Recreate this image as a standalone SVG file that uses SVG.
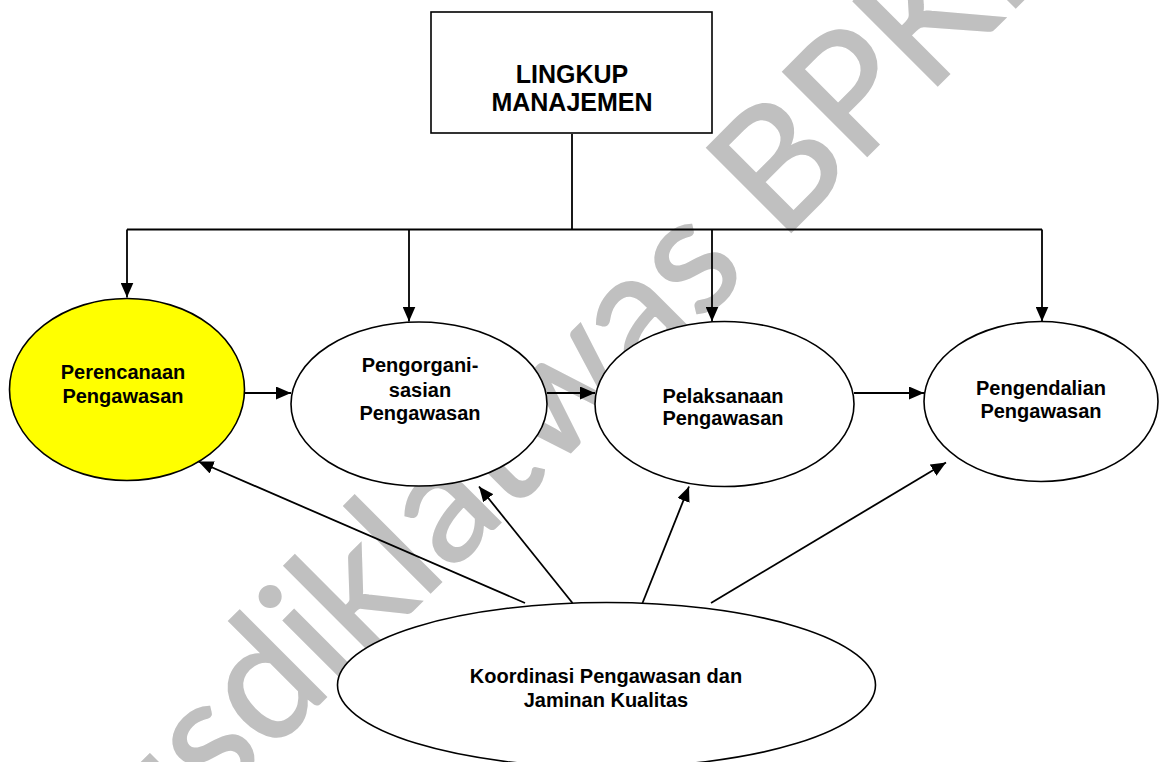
<svg xmlns="http://www.w3.org/2000/svg" width="1160" height="762" viewBox="0 0 1160 762">
<style>
.wm{font-family:Lato,"Liberation Sans",Arial,sans-serif;font-size:166px;fill:#c0c0c0;stroke:#c0c0c0;stroke-width:2}
.node{fill:#fff;stroke:#000;stroke-width:1.6}
.lbl{font-family:"Liberation Sans",Arial,sans-serif;font-weight:bold;font-size:20px;fill:#000;text-anchor:middle}
.big{font-size:25px}
.con{fill:none;stroke:#000;stroke-width:1.8}
.arr{marker-end:url(#ah)}
</style>
<defs>
<marker id="ah" markerUnits="userSpaceOnUse" markerWidth="16" markerHeight="13" refX="15" refY="6.5" orient="auto">
<path d="M0,0 L15,6.5 L0,13 z" fill="#000"/>
</marker>
</defs>
<rect width="1160" height="762" fill="#fff"/>
<text class="wm" x="82" y="941" textLength="1405" lengthAdjust="spacingAndGlyphs" transform="rotate(-45 82 941)">Pusdiklatwas BPKP</text>

<g id="lingkup">
<rect class="node" x="431" y="12" width="281" height="121"/>
<text class="lbl big" x="572" y="83">LINGKUP</text>
<text class="lbl big" x="572" y="111">MANAJEMEN</text>
</g>
<g id="perencanaan">
<ellipse cx="127" cy="389.5" rx="117.5" ry="91" fill="#ffff00" stroke="#000" stroke-width="1.6"/>
<text class="lbl" x="123" y="379">Perencanaan</text>
<text class="lbl" x="123" y="403">Pengawasan</text>
</g>
<g id="pengorganisasian">
<ellipse class="node" cx="419" cy="404" rx="128" ry="82"/>
<text class="lbl" x="420" y="372">Pengorgani-</text>
<text class="lbl" x="420" y="397">sasian</text>
<text class="lbl" x="420" y="420">Pengawasan</text>
</g>
<g id="pelaksanaan">
<ellipse class="node" cx="724.5" cy="404" rx="129.5" ry="82.5"/>
<text class="lbl" x="723" y="403">Pelaksanaan</text>
<text class="lbl" x="723" y="425">Pengawasan</text>
</g>
<g id="pengendalian">
<ellipse class="node" cx="1041" cy="401.5" rx="117" ry="80"/>
<text class="lbl" x="1041" y="395">Pengendalian</text>
<text class="lbl" x="1041" y="418">Pengawasan</text>
</g>
<g id="koordinasi">
<ellipse class="node" cx="606.5" cy="685" rx="269" ry="82.5"/>
<text class="lbl" x="606" y="683">Koordinasi Pengawasan dan</text>
<text class="lbl" x="606" y="707">Jaminan Kualitas</text>
</g>

<g id="connectors">
<path class="con" d="M572,134 V229.5"/>
<path class="con" d="M127,229.5 H1042"/>
<path class="con arr" d="M127,229.5 V297.5"/>
<path class="con arr" d="M409,229.5 V321.5"/>
<path class="con arr" d="M712,229.5 V321.5"/>
<path class="con arr" d="M1042,229.5 V321.5"/>
<path class="con arr" d="M244.5,393 H291"/>
<path class="con arr" d="M547,393 H595"/>
<path class="con arr" d="M854,393 H924"/>
<path class="con arr" d="M525,603 L198.5,461.5"/>
<path class="con arr" d="M572.5,603 L479,486.5"/>
<path class="con arr" d="M642.5,603 L689,486.5"/>
<path class="con arr" d="M711,603 L946,462.5"/>
</g>
</svg>
